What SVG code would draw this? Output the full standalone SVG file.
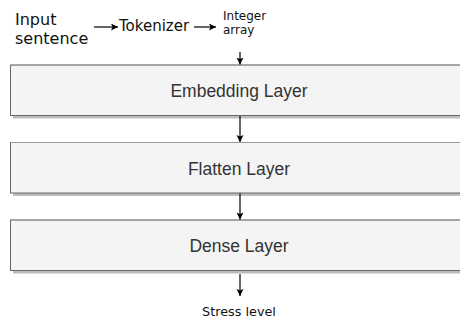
<svg xmlns="http://www.w3.org/2000/svg" width="460" height="322" viewBox="0 0 460 322">
<style>
.box{fill:#f4f4f4;stroke:#666;stroke-width:1}
.topedge{stroke:#9a9a9a;stroke-width:1.2}
.shadow{fill:#bdbdbd}
.lbl{font-family:"Liberation Sans",Arial,sans-serif;font-size:17.5px;fill:#333;text-anchor:middle}
.t{font-family:"DejaVu Sans",sans-serif;fill:#111}
.edge{stroke:#000;stroke-width:1.2;fill:none;marker-end:url(#ah)}
</style>
<defs>
<marker id="ah" markerUnits="userSpaceOnUse" markerWidth="8" markerHeight="8" refX="7" refY="3.5" orient="auto">
<path d="M0,0 L7,3.5 L0,7 L1.5,3.5 z" fill="#000"/>
</marker>
</defs>
<rect width="460" height="322" fill="#fff"/>
<g id="input">
<text class="t" x="15" y="25" font-size="16">Input</text>
<text class="t" x="15" y="44" font-size="16">sentence</text>
</g>
<g id="tokenizer">
<text class="t" x="119" y="31" font-size="15">Tokenizer</text>
</g>
<g id="integer-array">
<text class="t" x="223" y="20" font-size="12">Integer</text>
<text class="t" x="223" y="34" font-size="12">array</text>
</g>
<g id="embedding">
<rect class="shadow" x="13" y="68" width="460" height="50.5"/>
<rect class="box" x="10.5" y="65" width="460" height="50.5"/>
<line class="topedge" x1="10.5" y1="65" x2="460" y2="65"/>
<text class="lbl" x="239" y="96.5">Embedding Layer</text>
</g>
<g id="flatten">
<rect class="shadow" x="13" y="145.5" width="460" height="50.5"/>
<rect class="box" x="10.5" y="142.5" width="460" height="50.5"/>
<line class="topedge" x1="10.5" y1="142.5" x2="460" y2="142.5"/>
<text class="lbl" x="239" y="174.5">Flatten Layer</text>
</g>
<g id="dense">
<rect class="shadow" x="13" y="223" width="460" height="50.5"/>
<rect class="box" x="10.5" y="220" width="460" height="50.5"/>
<line class="topedge" x1="10.5" y1="220" x2="460" y2="220"/>
<text class="lbl" x="239" y="251.5">Dense Layer</text>
</g>
<g id="stress-level">
<text class="t" x="239" y="316" font-size="12.8" text-anchor="middle">Stress level</text>
</g>
<g id="connectors">
<line class="edge" x1="94" y1="27" x2="118" y2="27"/>
<line class="edge" x1="194" y1="27" x2="216" y2="27"/>
<line class="edge" x1="240" y1="52" x2="240" y2="64.5"/>
<line class="edge" x1="240" y1="116" x2="240" y2="142"/>
<line class="edge" x1="240" y1="193.5" x2="240" y2="219.5"/>
<line class="edge" x1="240" y1="274" x2="240" y2="296"/>
</g>
</svg>
